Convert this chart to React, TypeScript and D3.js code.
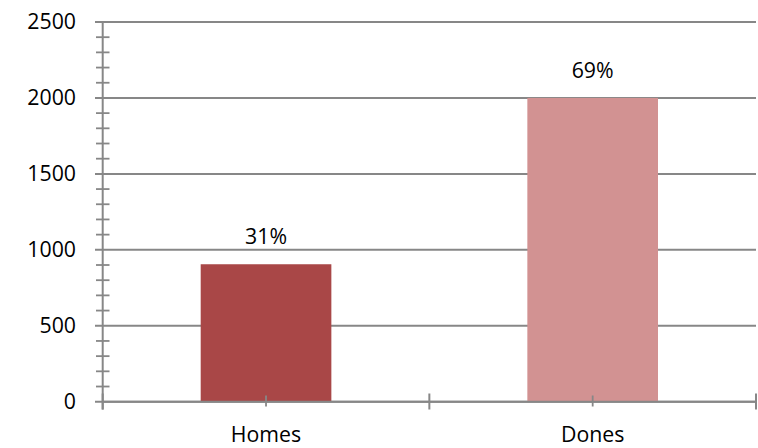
import React from "react";
import * as d3 from "d3";

const categories = ["Homes", "Dones"];
const values = [905, 2000];
const percentLabels = ["31%", "69%"];
const barColors = ["#A94747", "#D29292"];
const yTicks = [0, 500, 1000, 1500, 2000, 2500];
const yMinorTicks = d3.range(0, 2501, 100).filter((v) => v % 500 !== 0);

const W = 758;
const H = 448;
const left = 102.7;
const right = 756;
const top = 22;
const bottom = 401.7;
const grid = "#878787";
const font = "'Open Sans', sans-serif";
const fs = 21.3;

export default function App() {
  const y = d3.scaleLinear().domain([0, 2500]).range([bottom, top]);
  const x = d3
    .scaleBand<string>()
    .domain(categories)
    .range([left, right])
    .paddingInner(0.6)
    .paddingOuter(0.3);
  const step = x.step();
  const boundaries = d3.range(categories.length + 1).map((i) => left + i * step);

  return (
    <svg
      width={W}
      height={H}
      style={{ position: "absolute", left: 0, top: 0, background: "#fff" }}
    >
      {yTicks.map((t) => (
        <line
          key={"g" + t}
          x1={95}
          x2={right}
          y1={y(t)}
          y2={y(t)}
          stroke={grid}
          strokeWidth={2}
        />
      ))}
      {yMinorTicks.map((t) => (
        <line
          key={"m" + t}
          x1={96}
          x2={109.5}
          y1={y(t)}
          y2={y(t)}
          stroke={grid}
          strokeWidth={1.8}
        />
      ))}
      {categories.map((c, i) => (
        <rect
          key={c}
          x={x(c)}
          y={y(values[i])}
          width={x.bandwidth()}
          height={y(0) - y(values[i])}
          fill={barColors[i]}
        />
      ))}
      <line x1={left} x2={left} y1={top} y2={409.5} stroke={grid} strokeWidth={2} />
      <line x1={left} x2={right} y1={bottom} y2={bottom} stroke={grid} strokeWidth={2} />
      {boundaries.map((b, i) => (
        <line
          key={"b" + i}
          x1={b}
          x2={b}
          y1={393.5}
          y2={409.5}
          stroke={grid}
          strokeWidth={2}
        />
      ))}
      {categories.map((c) => (
        <line
          key={"c" + c}
          x1={(x(c) as number) + x.bandwidth() / 2}
          x2={(x(c) as number) + x.bandwidth() / 2}
          y1={395.5}
          y2={406.5}
          stroke={grid}
          strokeWidth={1.8}
        />
      ))}
      {yTicks.map((t) => (
        <text
          key={"yl" + t}
          x={76}
          y={y(t)}
          dy="0.35em"
          textAnchor="end"
          fontFamily={font}
          fontSize={fs}
          fill="#000"
        >
          {t}
        </text>
      ))}
      {categories.map((c, i) => (
        <text
          key={"vl" + c}
          x={(x(c) as number) + x.bandwidth() / 2}
          y={y(values[i]) - 20}
          textAnchor="middle"
          fontFamily={font}
          fontSize={fs}
          fill="#000"
        >
          {percentLabels[i]}
        </text>
      ))}
      {categories.map((c) => (
        <text
          key={"xl" + c}
          x={(x(c) as number) + x.bandwidth() / 2}
          y={442}
          textAnchor="middle"
          fontFamily={font}
          fontSize={fs}
          fill="#000"
        >
          {c}
        </text>
      ))}
    </svg>
  );
}
